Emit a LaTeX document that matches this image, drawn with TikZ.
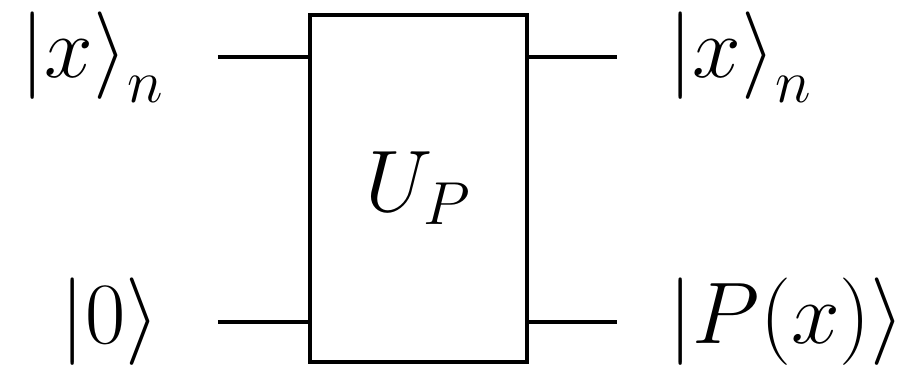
\documentclass[tikz,border=0pt]{standalone}
\usepackage{amsmath}
\usepackage{amssymb}
\usetikzlibrary{positioning}
\begin{document}
\begin{tikzpicture}[font=\fontsize{24}{29}\selectfont]
    \tikzstyle{gatebox} = [rectangle, draw, line width=1.2pt, minimum width=2.17cm, minimum height=3.47cm, inner sep=0pt]
    \tikzstyle{wire} = [line width=1.2pt]
    \tikzstyle{ketlabel} = [inner sep=0pt]
    \useasboundingbox (0,0) rectangle (9.17,3.71);

    \node [gatebox] (up) at (4.185,1.825) {$U_P$};

    \coordinate (inA) at (2.18,3.14);
    \coordinate (inB) at (2.18,0.49);
    \coordinate (outA) at (6.17,3.14);
    \coordinate (outB) at (6.17,0.49);

    \node [ketlabel, left=0.53cm of inA] (xin) {$\left|x\right\rangle_n$};
    \node [ketlabel, left=0.58cm of inB] (zin) {$|0\rangle$};
    \node [ketlabel, right=0.51cm of outA] (xout) {$\left|x\right\rangle_n$};
    \node [ketlabel, right=0.51cm of outB] (pout) {$|P(x)\rangle$};

    \draw [wire] (inA) -- (inA -| up.west);
    \draw [wire] (inB) -- (inB -| up.west);
    \draw [wire] (outA -| up.east) -- (outA);
    \draw [wire] (outB -| up.east) -- (outB);
\end{tikzpicture}
\end{document}
